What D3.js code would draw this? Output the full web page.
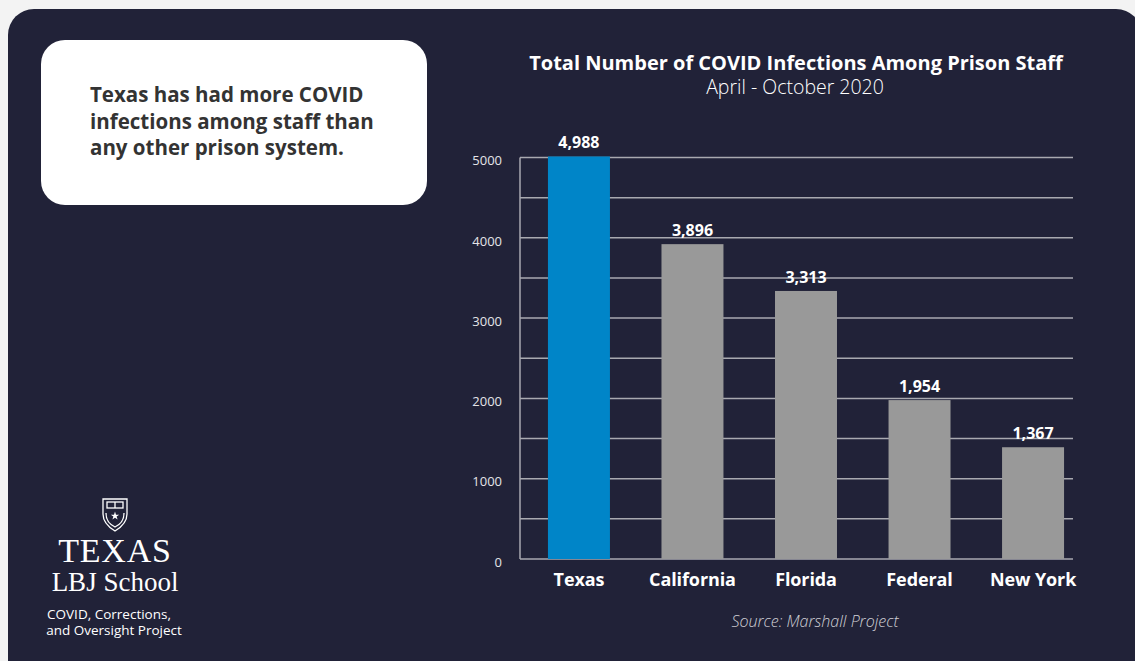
<!DOCTYPE html>
<html>
<head>
<meta charset="utf-8">
<script src="https://cdn.jsdelivr.net/npm/d3@7"></script>
<style>
  html, body { margin: 0; padding: 0; background: #f3f3f3; }
  svg { display: block; }
</style>
</head>
<body>
<script>
(() => {
    const width = 1135;
    const height = 661;

    // chart data
    const systems = ["Texas", "California", "Florida", "Federal", "New York"];
    const infections = [4988, 3896, 3313, 1954, 1367];
    const yTicks = [0, 1000, 2000, 3000, 4000, 5000];

    const title = "Total Number of COVID Infections Among Prison Staff";
    const subtitle = "April - October 2020";
    const source = "Source: Marshall Project";
    const callout = ["Texas has had more COVID", "infections among staff than", "any other prison system."];

    const data = systems.map((s, i) => ({ name: s, value: infections[i] }));

    const navy = "#212238";
    const grid = "#a9a9b0";
    const sans = "'Open Sans', sans-serif";

    const svg = d3.create("svg")
        .attr("width", width)
        .attr("height", height)
        .attr("viewBox", [0, 0, width, height]);

    svg.append("rect")
        .attr("width", width).attr("height", height)
        .attr("fill", "#f3f3f3");

    // dark card
    svg.append("rect")
        .attr("x", 8).attr("y", 9)
        .attr("width", 1134).attr("height", 680)
        .attr("rx", 26)
        .attr("fill", navy);

    // white callout box
    svg.append("rect")
        .attr("x", 41).attr("y", 40)
        .attr("width", 386).attr("height", 165)
        .attr("rx", 24)
        .attr("fill", "#ffffff");

    svg.append("g")
        .selectAll("text")
        .data(callout)
        .join("text")
        .attr("x", 90)
        .attr("y", (d, i) => 102 + i * 26.5)
        .attr("font-family", sans)
        .attr("font-weight", 700)
        .attr("font-size", 20.5)
        .attr("fill", "#333333")
        .text(d => d);

    // titles
    svg.append("text")
        .attr("x", 796).attr("y", 69.5)
        .attr("text-anchor", "middle")
        .attr("font-family", sans)
        .attr("font-weight", 700)
        .attr("font-size", 20)
        .attr("fill", "#ffffff")
        .text(title);

    svg.append("text")
        .attr("x", 795).attr("y", 94)
        .attr("text-anchor", "middle")
        .attr("font-family", sans)
        .attr("font-weight", 300)
        .attr("font-size", 19.5)
        .attr("fill", "#ffffff")
        .text(subtitle);

    // scales
    const x = d3.scaleBand()
        .domain(systems)
        .range([519, 1093])
        .paddingInner(0.454)
        .paddingOuter(0.255);

    const y = d3.scaleLinear()
        .domain([0, 5000])
        .range([559, 157.5]);

    // gridlines every 500
    svg.append("g")
        .selectAll("line")
        .data(d3.range(0, 5001, 500))
        .join("line")
        .attr("x1", 520)
        .attr("x2", 1073)
        .attr("y1", d => y(d))
        .attr("y2", d => y(d))
        .attr("stroke", grid)
        .attr("stroke-width", 1.5);

    // vertical axis line
    svg.append("line")
        .attr("x1", 520).attr("x2", 520)
        .attr("y1", y(5000)).attr("y2", y(0))
        .attr("stroke", grid)
        .attr("stroke-width", 1.5);

    // y axis labels
    const yAxis = svg.append("g")
        .attr("transform", "translate(520,0)")
        .call(d3.axisLeft(y).tickValues(yTicks).tickSize(0).tickPadding(18).tickFormat(d3.format("d")));
    yAxis.select(".domain").remove();
    yAxis.selectAll("text")
        .attr("dy", "0.56em")
        .attr("font-family", sans)
        .attr("font-weight", 400)
        .attr("font-size", 13)
        .attr("fill", "#e4e4e8");

    // bars
    svg.append("g")
        .selectAll("rect")
        .data(data)
        .join("rect")
        .attr("x", d => x(d.name))
        .attr("y", d => y(d.value) - 2)
        .attr("width", x.bandwidth())
        .attr("height", d => y(0) - y(d.value) + 2)
        .attr("fill", d => d.name === "Texas" ? "#0085c8" : "#999999");

    // value labels
    svg.append("g")
        .selectAll("text")
        .data(data)
        .join("text")
        .attr("x", d => x(d.name) + x.bandwidth() / 2)
        .attr("y", d => y(d.value) - 10)
        .attr("text-anchor", "middle")
        .attr("font-family", sans)
        .attr("font-weight", 700)
        .attr("font-size", 16)
        .attr("fill", "#ffffff")
        .text(d => d3.format(",")(d.value));

    // x axis labels
    const xAxis = svg.append("g")
        .attr("transform", `translate(0,${y(0)})`)
        .call(d3.axisBottom(x).tickSize(0).tickPadding(14));
    xAxis.select(".domain").remove();
    xAxis.selectAll("text")
        .attr("font-family", sans)
        .attr("font-weight", 700)
        .attr("font-size", 18)
        .attr("letter-spacing", -0.1)
        .attr("fill", "#ffffff");

    // source
    svg.append("text")
        .attr("x", 815).attr("y", 627)
        .attr("text-anchor", "middle")
        .attr("font-family", sans)
        .attr("font-style", "italic")
        .attr("font-weight", 300)
        .attr("font-size", 16)
        .attr("fill", "#d0d0d6")
        .text(source);

    // LBJ School logo
    const logo = svg.append("g").attr("transform", "translate(115,0)");

    const crest = logo.append("g")
        .attr("fill", "none")
        .attr("stroke", "#ffffff")
        .attr("stroke-width", 1.3);
    crest.append("path")
        .attr("d", "M-12,499 L12,499 L12,514 C12,523 5,528 0,531 C-5,528 -12,523 -12,514 Z");
    crest.append("rect")
        .attr("x", -8).attr("y", 502).attr("width", 16).attr("height", 6);
    crest.append("line")
        .attr("x1", 0).attr("x2", 0).attr("y1", 502).attr("y2", 508);
    crest.append("path")
        .attr("d", "M-9,513 C-9,522 -4,525 0,527 C4,525 9,522 9,513");
    crest.append("path")
        .attr("fill", "#ffffff").attr("stroke", "none")
        .attr("d", d3.symbol(d3.symbolStar, 22)())
        .attr("transform", "translate(0,516)");

    logo.append("text")
        .attr("x", 0).attr("y", 562)
        .attr("text-anchor", "middle")
        .attr("font-family", "'Liberation Serif', serif")
        .attr("font-size", 34)
        .attr("letter-spacing", 0.8)
        .attr("fill", "#ffffff")
        .text("TEXAS");

    logo.append("text")
        .attr("x", 0).attr("y", 591)
        .attr("text-anchor", "middle")
        .attr("font-family", "'Liberation Serif', serif")
        .attr("font-size", 27)
        .attr("fill", "#ffffff")
        .text("LBJ School");

    logo.append("g")
        .selectAll("text")
        .data(["COVID, Corrections,", "and Oversight Project"])
        .join("text")
        .attr("x", (d, i) => i === 0 ? -6 : -1)
        .attr("y", (d, i) => 619 + i * 16)
        .attr("text-anchor", "middle")
        .attr("font-family", sans)
        .attr("font-size", 13.5)
        .attr("fill", "#ffffff")
        .text(d => d);

    d3.select("body").append(() => svg.node());
})();
</script>
</body>
</html>
